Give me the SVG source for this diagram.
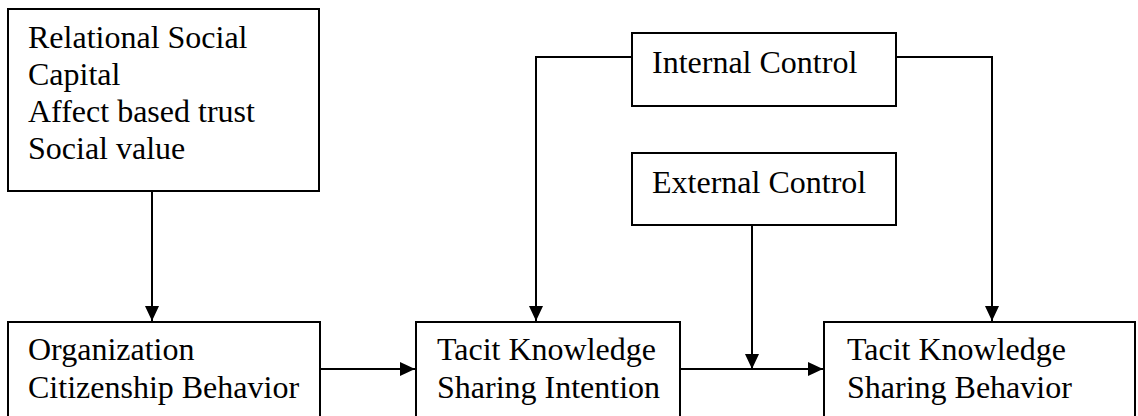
<svg xmlns="http://www.w3.org/2000/svg" width="1138" height="416" viewBox="0 0 1138 416">
  <style>
    .box { fill: #ffffff; stroke: #000000; stroke-width: 2; }
    .lbl { font-family: "Liberation Serif", "Times New Roman", serif; font-size: 32px; fill: #000000; }
    .conn { fill: none; stroke: #000000; stroke-width: 2; }
  </style>
  <defs>
    <marker id="arrow" markerUnits="userSpaceOnUse" markerWidth="16" markerHeight="14" refX="15" refY="7" orient="auto">
      <path d="M0,0 L15,7 L0,14 Z" fill="#000000"/>
    </marker>
  </defs>
  <rect width="1138" height="416" fill="#ffffff"/>

  <g id="connectors">
    <line class="conn" x1="152" y1="191" x2="152" y2="321" marker-end="url(#arrow)"/>
    <line class="conn" x1="320" y1="369" x2="415" y2="369" marker-end="url(#arrow)"/>
    <line class="conn" x1="680" y1="369" x2="823" y2="369" marker-end="url(#arrow)"/>
    <polyline class="conn" points="632,57 536,57 536,321" marker-end="url(#arrow)"/>
    <polyline class="conn" points="896,57 992,57 992,321" marker-end="url(#arrow)"/>
    <line class="conn" x1="752" y1="225" x2="752" y2="369" marker-end="url(#arrow)"/>
  </g>

  <g id="relational-social-capital">
    <rect class="box" x="8" y="9" width="311" height="182"/>
    <text class="lbl" x="28" y="48">Relational Social</text>
    <text class="lbl" x="28" y="85">Capital</text>
    <text class="lbl" x="28" y="122">Affect based trust</text>
    <text class="lbl" x="28" y="159">Social value</text>
  </g>

  <g id="internal-control">
    <rect class="box" x="632" y="33" width="264" height="73"/>
    <text class="lbl" x="652" y="73">Internal Control</text>
  </g>

  <g id="external-control">
    <rect class="box" x="632" y="153" width="264" height="72"/>
    <text class="lbl" x="652" y="193">External Control</text>
  </g>

  <g id="organization-citizenship-behavior">
    <rect class="box" x="8" y="322" width="312" height="110"/>
    <text class="lbl" x="28" y="360">Organization</text>
    <text class="lbl" x="28" y="398">Citizenship Behavior</text>
  </g>

  <g id="tacit-knowledge-sharing-intention">
    <rect class="box" x="416" y="322" width="264" height="110"/>
    <text class="lbl" x="437" y="360">Tacit Knowledge</text>
    <text class="lbl" x="437" y="398">Sharing Intention</text>
  </g>

  <g id="tacit-knowledge-sharing-behavior">
    <rect class="box" x="824" y="322" width="311" height="110"/>
    <text class="lbl" x="847" y="360">Tacit Knowledge</text>
    <text class="lbl" x="847" y="398">Sharing Behavior</text>
  </g>
</svg>
